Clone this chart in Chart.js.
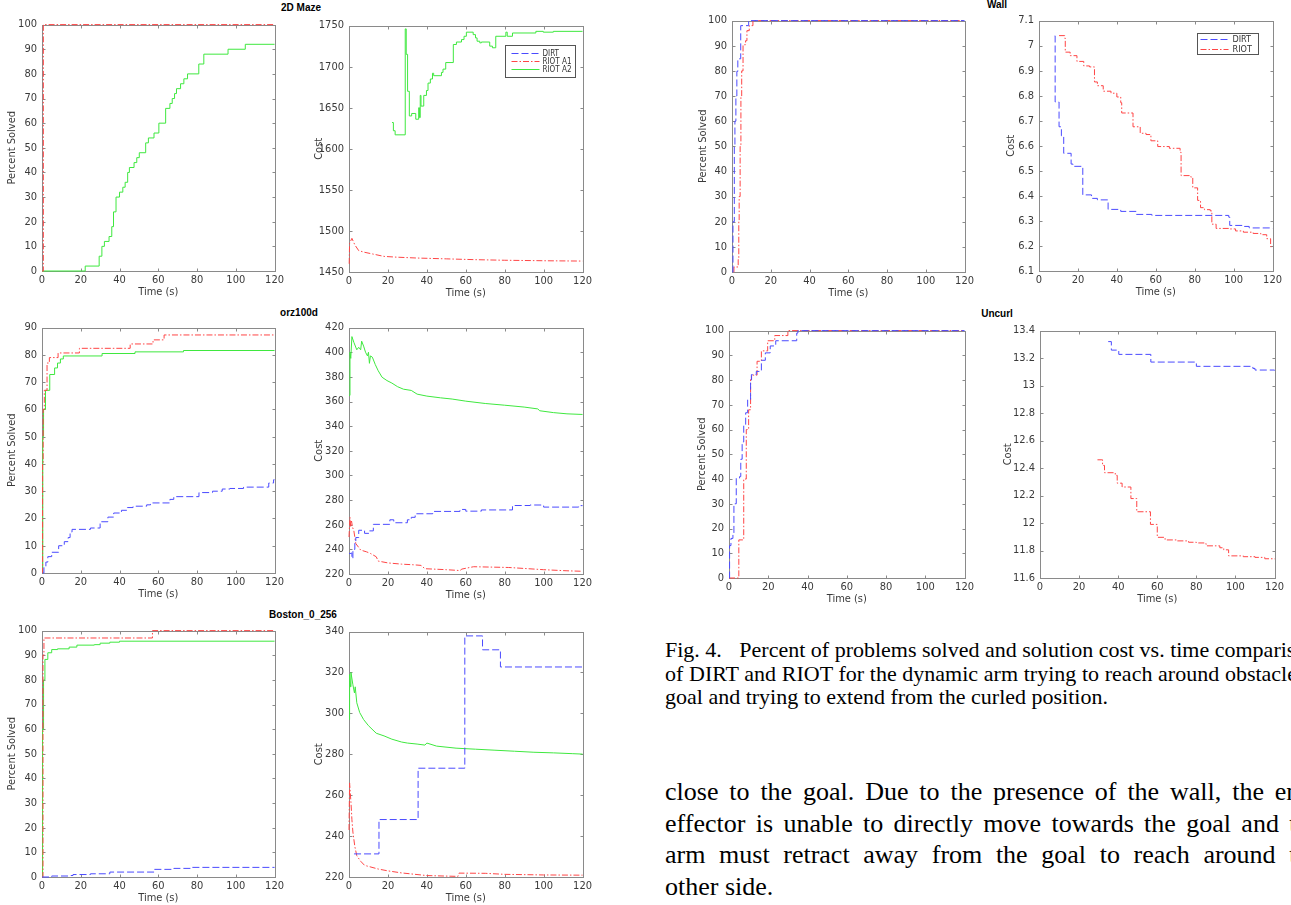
<!DOCTYPE html>
<html>
<head>
<meta charset="utf-8">
<script src="https://cdn.jsdelivr.net/npm/chart.js@4.4.1/dist/chart.umd.min.js"></script>
<style>
  html, body { margin: 0; padding: 0; background: #fff; }
  body { width: 1291px; height: 905px; overflow: hidden; position: relative; }
  canvas { position: absolute; }
  .ttl { position: absolute; font: bold 10px 'Liberation Sans', Arial, sans-serif; color: #000; transform: translateX(-50%); white-space: nowrap; }
  .cap { position: absolute; left: 665px; top: 638px; font: 22px/23.5px 'Liberation Serif', 'Times New Roman', serif; color: #000; }
  .cap div { white-space: nowrap; }
  .body { position: absolute; left: 665px; top: 776px; width: 656px; font: 26px/31.7px 'Liberation Serif', 'Times New Roman', serif; color: #000; }
  .body div { white-space: nowrap; text-align: justify; text-align-last: justify; }
  .body div.last { text-align-last: left; }
</style>
</head>
<body>

<div class="ttl" style="left:301px; top:2px;">2D Maze</div>
<div class="ttl" style="left:299px; top:307px;">orz100d</div>
<div class="ttl" style="left:303px; top:609px;">Boston_0_256</div>
<div class="ttl" style="left:997px; top:-1px;">Wall</div>
<div class="ttl" style="left:997px; top:308px;">Uncurl</div>

<div class="cap">
  <div>Fig. 4.<span style="display:inline-block;width:12px"></span> Percent of problems solved and solution cost vs. time comparison</div>
  <div style="word-spacing:0.2px">of DIRT and RIOT for the dynamic arm trying to reach around obstacle to</div>
  <div>goal and trying to extend from the curled position.</div>
</div>

<div class="body">
  <div>close to the goal. Due to the presence of the wall, the end-</div>
  <div>effector is unable to directly move towards the goal and the</div>
  <div>arm must retract away from the goal to reach around the</div>
  <div class="last">other side.</div>
</div>

<script>
// Time axis is shared by every panel
const timeTicks = { min: 0, max: 120, step: 20 };

// 2D Maze
const mazeSolvedA1 = [[0,0],[0.7,100],[120,100]];
const mazeSolvedA2 = [[0,0],[22.3,2],[29.5,6],[30.9,10],[32.2,12],[34.6,14],[36,18],[36.9,24],[38.2,30],[40,32],[41.7,34],[42.9,36],[44.2,40],[45.1,42],[47.5,44],[48.9,46],[50.2,48],[53.5,52],[54.9,54],[57.8,56],[60.3,60],[63.8,66],[66,68],[67.2,70],[68.4,72],[69.4,74],[71.5,76],[73.2,78],[75.1,80],[80.9,84],[83.5,88],[96,90],[104.9,92],[120,92]];
const mazeCostA1 = [[0.1,1460],[0.3,1485],[1.5,1491],[3,1483],[5,1476],[8,1474],[12,1472],[18,1469],[25,1468],[35,1467],[50,1466],[65,1465],[80,1464.3],[100,1463.7],[120,1463.3]];
const mazeCostA2 = [[22.1,1632],[22.8,1622],[23.7,1617],[28.9,1746],[29.4,1715],[30.1,1670],[31,1640],[32.2,1643],[34.3,1636],[35.8,1650],[36.2,1638],[36.6,1665],[37,1652],[38.4,1665],[39.8,1671],[40.6,1680],[41.8,1685],[42.9,1692],[43.5,1689],[47.5,1693],[48.3,1697],[49.7,1705],[53.6,1727],[55.2,1730],[57.8,1733],[59.1,1737],[60.3,1742],[63.8,1739],[65,1735],[65.8,1731],[67.2,1729],[68,1730],[72.3,1725],[73.7,1723],[75.4,1737],[80.6,1742],[81.3,1737],[84,1741],[96,1743],[99.8,1742],[105,1743],[120,1743]];

// orz100d
const orzSolvedDirt = [[0.3,0],[1,2.4],[2,4],[3,6],[5,7.6],[8.6,10],[11.5,11.5],[13.5,13],[14.5,15],[15.5,16],[25,16.5],[30,18.8],[34,20.5],[37,22],[41,23],[44,24],[47,24.5],[54,25],[56,25.7],[66,27],[68,28],[81,29.5],[88,30],[93,30.8],[97,31],[104,31.5],[117,33],[119.5,34.2],[120,34.2]];
const orzSolvedA1 = [[0,0],[0.3,40],[0.6,60],[1.2,67],[2.6,77],[3.8,79],[8.3,80.7],[19.3,82.4],[45.5,84],[57.3,85.5],[63,87.3],[120,87.3]];
const orzSolvedA2 = [[0,0],[0.4,50],[0.8,60],[1.8,67],[4,72.8],[6.5,75.2],[8,77],[9.5,78.5],[11,79.6],[31,80.5],[48,81.1],[73,81.6],[120,81.6]];
const orzCostDirt = [[0,236.7],[1,237],[1.5,232.6],[2,240],[3,245],[3.5,249.6],[5,255.5],[8,253],[10.5,255],[12.5,260.3],[21,264],[23,261.6],[30,264],[32,266],[34,268.9],[43,270.8],[57,272.4],[60,271],[68,272],[84,275.6],[93,276],[100,274.3],[118,275.5],[120,275.5]];
const orzCostA1 = [[0,250],[0.5,266],[0.9,258],[1.3,263],[1.8,258],[2.5,255],[3.5,244.7],[6,239.4],[9,238],[11,236.7],[14,234],[15,230.5],[20,229],[27,228],[33,227.5],[37,227],[39,224.3],[50,223.5],[57,222.8],[58,224],[64,225.9],[82,225.3],[90,224.5],[100,223.5],[112,222.6],[120,222.2]];
const orzCostA2 = [[0,365],[0.5,400],[0.9,395],[1.5,412.7],[2.5,408],[4,402],[5,404],[6,402],[6.5,409],[7.5,405],[8.5,400],[9.5,397],[10,400],[10.5,391],[11,397],[12,396],[13.5,390],[15,385],[17,379.7],[19.5,377],[22,375],[25,372],[28,370],[32,369],[35,366],[40,364.4],[47,363],[53,362],[60,360.3],[70,358.4],[80,357],[90,355.5],[97,354],[98,352.5],[105,351],[112,350],[120,349.5]];

// Boston_0_256
const bostonSolvedDirt = [[0,0],[5,0.4],[15,0.6],[16,1],[25,1.3],[35,2],[58,3.1],[68,3.5],[77,3.9],[120,3.9]];
const bostonSolvedA1 = [[0,0],[0.5,90],[1,97],[57,100],[120,100]];
const bostonSolvedA2 = [[0,0],[0.3,60],[0.8,80],[1.5,88.3],[3,91],[5,92.3],[8,92.6],[14,93.3],[18,94.1],[27,94.3],[30,94.9],[35,95.3],[40,95.7],[120,95.7]];
const bostonCostDirt = [[2.6,231.3],[15.4,248.1],[35.5,273.2],[59.5,337.9],[68.6,331.1],[77.8,322.7],[120,322.7]];
const bostonCostA1 = [[0,243],[0.3,266],[1,256.6],[1.5,248],[2,242],[3,234.9],[4,230.4],[6,227.7],[8,225.7],[15,223.9],[20,223],[27,222],[33,221.4],[40,220.7],[56,220.3],[56.5,221.9],[70,221.8],[80,221.3],[100,221],[120,220.9]];
const bostonCostA2 = [[0,297],[0.3,319],[0.8,313],[1,320],[2,314],[2.8,310],[3.2,313],[4,305.2],[5.5,300.4],[7.5,297],[10,294],[14,290.3],[18,289],[22,287.4],[27,286],[30,285.5],[35,285],[39,284.5],[40,285.5],[45,284],[55,283],[65,282.5],[75,282],[85,281.5],[95,281],[105,280.7],[115,280.3],[120,280.1]];

// Wall
const wallSolvedDirt = [[0.2,0],[0.5,20],[1.2,50],[1.5,60],[2,70],[2.5,79.8],[3,84.8],[4.5,98],[8.6,100],[120,100]];
const wallSolvedRiot = [[0.8,0],[1,2],[3.2,5],[3.5,20],[3.7,30],[4.2,50],[4.6,70],[5,80],[5.7,90.4],[7,92],[7.7,96],[8.9,98],[10.8,100],[120,100]];
const wallCostDirt = [[8.1,7.039],[8.3,6.775],[10.3,6.676],[11.5,6.64],[12.7,6.57],[16.5,6.527],[17.5,6.518],[22.5,6.404],[27,6.39],[30,6.384],[35.5,6.346],[42,6.338],[50,6.326],[58,6.322],[97.5,6.315],[98,6.282],[105,6.278],[108,6.272],[120,6.271]];
const wallCostRiot = [[10.3,7.04],[13.2,7.03],[13.5,6.974],[16,6.96],[19.5,6.937],[23,6.919],[26,6.915],[28.5,6.855],[30,6.84],[33,6.818],[37,6.81],[40,6.795],[42,6.772],[42.5,6.731],[48.3,6.676],[52,6.65],[55,6.645],[57.5,6.62],[61,6.597],[67,6.59],[72.5,6.574],[73,6.481],[78,6.475],[79,6.432],[81.5,6.382],[83,6.353],[85,6.345],[88,6.34],[88.8,6.287],[91,6.27],[98,6.268],[101,6.26],[105,6.255],[110,6.25],[114,6.245],[117,6.229],[119,6.197],[120,6.195]];

// Uncurl
const uncurlSolvedDirt = [[0,0],[0.3,13.1],[1,16],[2,18],[2.5,30],[3.7,40.4],[5.4,41],[6,48],[6.7,55],[7.5,62],[8.5,66.8],[9.5,72],[11,80],[11.4,82.2],[13.9,83.5],[16.5,88],[18.5,91],[21,93.8],[23.8,95.9],[34.5,99],[35.1,100],[120,100]];
const uncurlSolvedRiot = [[0,0],[4.2,0],[5,15.4],[7.5,40],[8.8,60],[10,68],[11,80.2],[11.5,82],[14.3,87.6],[16.5,91.8],[19.7,95.9],[23.3,98],[30,100],[120,100]];
const uncurlCostDirt = [[34.9,13.32],[36.5,13.258],[40.3,13.227],[56.7,13.171],[80,13.14],[108.9,13.125],[110,13.113],[120,13.11]];
const uncurlCostRiot = [[29.4,12.46],[31.7,12.46],[32,12.419],[33,12.366],[38.5,12.347],[39.5,12.29],[42,12.262],[46.5,12.178],[49.5,12.082],[56.5,11.99],[60,11.896],[64,11.877],[70,11.87],[76,11.86],[80,11.855],[84,11.85],[85,11.834],[92,11.82],[94,11.805],[96.5,11.761],[104,11.755],[110,11.75],[115,11.74],[120,11.737]];

// Line styles, matlab-ish
const FONT = "'Liberation Sans Narrow','DejaVu Sans Condensed','Liberation Sans',Arial,sans-serif";
const STYLE = {
    dirt: { color: '#4b4bff', dash: [7, 3] },
    riot: { color: '#ff4545', dash: [6, 2, 1.5, 2] },
    a2:   { color: '#3fe83f', dash: [] }
};

// Legend geometry (offsets from the plot's top-right corner)
const mazeLegend = { right: 8, top: 19, w: 70, h: 32, rows: [7, 15.3, 23.7], s0: 6, s1: 34, tx: 37, font: 8 };
const wallLegend = { right: 15, top: 12, w: 61, h: 21, rows: [5, 15.5], s0: 3, s1: 31, tx: 35, font: 9 };

const panels = [
    { L: 42, T: 23, R: 275, B: 271, axisW: 42, y: [0, 100, 10], yTitle: 'Percent Solved',
      series: [['DIRT', [], 'dirt', true], ['RIOT A1', mazeSolvedA1, 'riot', true], ['RIOT A2', mazeSolvedA2, 'a2', true]] },
    { L: 349, T: 24, R: 583, B: 272, axisW: 42, y: [1450, 1750, 50], yTitle: 'Cost', legend: mazeLegend,
      series: [['DIRT', [], 'dirt', false], ['RIOT A1', mazeCostA1, 'riot', false], ['RIOT A2', mazeCostA2, 'a2', true]] },
    { L: 42, T: 326, R: 275, B: 573, axisW: 42, y: [0, 90, 10], yTitle: 'Percent Solved',
      series: [['DIRT', orzSolvedDirt, 'dirt', true], ['RIOT A1', orzSolvedA1, 'riot', true], ['RIOT A2', orzSolvedA2, 'a2', true]] },
    { L: 349, T: 326, R: 583, B: 574, axisW: 42, y: [220, 420, 20], yTitle: 'Cost',
      series: [['DIRT', orzCostDirt, 'dirt', true], ['RIOT A1', orzCostA1, 'riot', false], ['RIOT A2', orzCostA2, 'a2', false]] },
    { L: 42, T: 629, R: 275, B: 877, axisW: 42, y: [0, 100, 10], yTitle: 'Percent Solved',
      series: [['DIRT', bostonSolvedDirt, 'dirt', true], ['RIOT A1', bostonSolvedA1, 'riot', true], ['RIOT A2', bostonSolvedA2, 'a2', true]] },
    { L: 349, T: 630, R: 583, B: 877, axisW: 42, y: [220, 340, 20], yTitle: 'Cost',
      series: [['DIRT', bostonCostDirt, 'dirt', true], ['RIOT A1', bostonCostA1, 'riot', false], ['RIOT A2', bostonCostA2, 'a2', false]] },
    { L: 732, T: 19, R: 965, B: 272, axisW: 41, y: [0, 100, 10], yTitle: 'Percent Solved',
      series: [['DIRT', wallSolvedDirt, 'dirt', true], ['RIOT', wallSolvedRiot, 'riot', true]] },
    { L: 1039, T: 19, R: 1273, B: 271, axisW: 40, y: [6.1, 7.1, 0.1], yTitle: 'Cost', legend: wallLegend,
      series: [['DIRT', wallCostDirt, 'dirt', true], ['RIOT', wallCostRiot, 'riot', true]] },
    { L: 729, T: 329, R: 965, B: 578, axisW: 39, y: [0, 100, 10], yTitle: 'Percent Solved',
      series: [['DIRT', uncurlSolvedDirt, 'dirt', true], ['RIOT', uncurlSolvedRiot, 'riot', true]] },
    { L: 1040, T: 329, R: 1275, B: 578, axisW: 44, y: [11.6, 13.4, 0.2], yTitle: 'Cost',
      series: [['DIRT', uncurlCostDirt, 'dirt', true], ['RIOT', uncurlCostRiot, 'riot', true]] }
];

const PAD_TOP = 10, PAD_RIGHT = 12, X_AXIS_H = 28;

// Box round the plot, inward tick marks on all four sides, and the legend
const boxPlugin = {
    id: 'box',
    beforeDatasetsDraw(chart) {
        const { ctx, chartArea: a, scales: { x, y } } = chart;
        ctx.save();
        ctx.strokeStyle = '#8a8a8a';
        ctx.lineWidth = 1;
        const l = Math.round(a.left) + 0.5, t = Math.round(a.top) + 0.5;
        const r = Math.round(a.right) + 0.5, b = Math.round(a.bottom) + 0.5;
        ctx.strokeRect(l, t, r - l, b - t);
        ctx.beginPath();
        x.ticks.forEach(tk => {
            const px = Math.round(x.getPixelForValue(tk.value)) + 0.5;
            ctx.moveTo(px, b); ctx.lineTo(px, b - 3);
            ctx.moveTo(px, t); ctx.lineTo(px, t + 3);
        });
        y.ticks.forEach(tk => {
            const py = Math.round(y.getPixelForValue(tk.value)) + 0.5;
            ctx.moveTo(l, py); ctx.lineTo(l + 3, py);
            ctx.moveTo(r, py); ctx.lineTo(r - 3, py);
        });
        ctx.stroke();
        ctx.restore();
    },
    afterDatasetsDraw(chart, args, opts) {
        const lg = opts.legend;
        if (!lg) return;
        const { ctx, chartArea: a } = chart;
        const x0 = Math.round(a.right - lg.right - lg.w) + 0.5, y0 = Math.round(a.top + lg.top) + 0.5;
        ctx.save();
        ctx.fillStyle = '#fff';
        ctx.fillRect(x0, y0, lg.w, lg.h);
        ctx.strokeStyle = '#555';
        ctx.lineWidth = 1;
        ctx.strokeRect(x0, y0, lg.w, lg.h);
        ctx.font = lg.font + 'px ' + FONT;
        ctx.textBaseline = 'middle';
        chart.data.datasets.forEach((ds, i) => {
            const yy = Math.round(y0 + lg.rows[i]) + 0.5;
            ctx.strokeStyle = ds.borderColor;
            ctx.setLineDash(ds.borderDash || []);
            ctx.beginPath();
            ctx.moveTo(x0 + lg.s0, yy);
            ctx.lineTo(x0 + lg.s1, yy);
            ctx.stroke();
            ctx.fillStyle = '#333';
            ctx.fillText(ds.label, x0 + lg.tx, yy);
        });
        ctx.restore();
    }
};

function tickText(v) {
    return String(Math.round(v * 10) / 10);
}

panels.forEach(p => {
    const cv = document.createElement('canvas');
    const w = p.axisW + (p.R - p.L) + PAD_RIGHT;
    const h = PAD_TOP + (p.B - p.T) + X_AXIS_H;
    cv.width = w;
    cv.height = h;
    cv.style.left = (p.L - p.axisW) + 'px';
    cv.style.top = (p.T - PAD_TOP) + 'px';
    document.body.appendChild(cv);

    const datasets = p.series.map(([label, pts, style, stepped]) => ({
        label: label,
        data: pts.map(([x, y]) => ({ x: x, y: y })),
        borderColor: STYLE[style].color,
        borderDash: STYLE[style].dash,
        borderWidth: 1,
        pointRadius: 0,
        fill: false,
        tension: 0,
        stepped: stepped ? 'before' : false,
        clip: 2
    }));

    new Chart(cv, {
        type: 'line',
        data: { datasets: datasets },
        options: {
            responsive: false,
            animation: false,
            events: [],
            layout: { padding: { top: PAD_TOP, right: PAD_RIGHT, left: 0, bottom: 0 } },
            plugins: {
                legend: { display: false },
                tooltip: { enabled: false },
                box: { legend: p.legend }
            },
            scales: {
                x: {
                    type: 'linear',
                    min: timeTicks.min, max: timeTicks.max,
                    grid: { display: false, drawTicks: false },
                    border: { display: false },
                    ticks: { stepSize: timeTicks.step, padding: 3, color: '#3a3a3a', font: { size: 11, family: FONT }, maxRotation: 0 },
                    title: { display: true, text: 'Time (s)', color: '#3a3a3a', font: { size: 11, family: FONT }, padding: { top: 0, bottom: 0 } },
                    afterFit: s => { s.height = X_AXIS_H; }
                },
                y: {
                    type: 'linear',
                    min: p.y[0], max: p.y[1],
                    grid: { display: false, drawTicks: false },
                    border: { display: false },
                    ticks: { stepSize: p.y[2], padding: 5, color: '#3a3a3a', font: { size: 11, family: FONT }, callback: tickText },
                    title: { display: true, text: p.yTitle, color: '#3a3a3a', font: { size: 11, family: FONT }, padding: { top: 6, bottom: 0 } },
                    afterFit: s => { s.width = p.axisW; }
                }
            }
        },
        plugins: [boxPlugin]
    });
});
</script>
</body>
</html>
